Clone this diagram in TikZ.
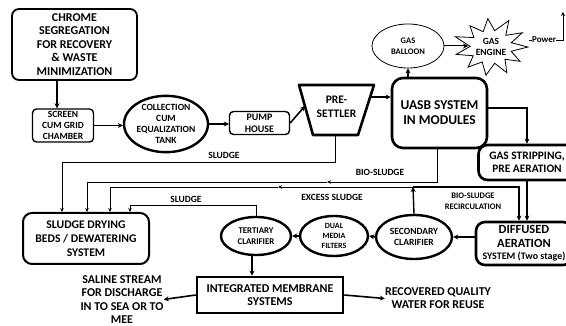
\documentclass[tikz,border=0pt]{standalone}
\usepackage{fontspec}
\setmainfont{Carlito}
\usetikzlibrary{shapes.geometric,arrows.meta}
\tikzset{
  fs/.style args={#1/#2}{font=\fontsize{#1}{#2}\selectfont\bfseries},
  rbox/.style={draw, rounded corners=7pt, line width=1.8pt, align=center, inner sep=1pt},
  tbox/.style={draw, rounded corners=9pt, line width=2.6pt, align=center, inner sep=1pt},
  ell/.style={draw, ellipse, line width=2.4pt, align=center, inner sep=0pt},
  lbl/.style={align=center, inner sep=0pt},
  flow/.style={line width=1.6pt, -{Stealth[length=5pt,width=5pt]}},
  thina/.style={line width=0.9pt, -{Stealth[length=4pt,width=3.5pt]}},
}
\begin{document}
\begin{tikzpicture}[x=1pt,y=-1pt]
\useasboundingbox (0,0) rectangle (566,326);
\clip (0,0) rectangle (566,326);
% nodes
\node[rbox, fs=12/13.5, minimum width=125pt, minimum height=71pt] (chrome) at (74.5,44.5)
  {CHROME\\SEGREGATION\\FOR RECOVERY\\\& WASTE\\MINIMIZATION};
\node[rbox, line width=1.4pt, rounded corners=4pt, fs=9.5/11, minimum width=61pt, minimum height=33pt] (screen) at (63,125.5)
  {SCREEN\\CUM GRID\\CHAMBER};
\node[ell, fs=9.5/11.2, minimum width=84pt, minimum height=53pt] (coll) at (166,124)
  {COLLECTION\\CUM\\EQUALIZATION\\TANK};
\node[rbox, line width=1.4pt, rounded corners=4pt, fs=10/12, minimum width=60pt, minimum height=23pt] (pump) at (259.5,123)
  {PUMP\\HOUSE};
% pre-settler trapezoid
\draw[line width=2.6pt, line join=round] (299,85) -- (374,85) -- (358,135) -- (313,135) -- cycle;
\node[lbl, fs=11.5/14] (ps) at (336.5,107) {PRE-\\SETTLER};
\coordinate (psL) at (305,106);
\coordinate (psR) at (371,97);
\coordinate (psB) at (335,135);
\node[tbox, rounded corners=11pt, fs=13.5/15, minimum width=95pt, minimum height=70pt] (uasb) at (439.5,113)
  {UASB SYSTEM\\IN MODULES};
\node[draw, ellipse, line width=0.8pt, align=center, inner sep=0pt, fs=8.5/11, minimum width=72pt, minimum height=44pt] (balloon) at (408,46)
  {GAS\\BALLOON};
% gas engine star
\draw[line width=0.8pt, shift={(491,47)}] (37,0)
  \foreach \a/\f in {15/0.55,30/0.95,45/0.55,62/1.0,80/0.55,95/0.95,112/0.55,128/0.9,145/0.55,160/1.0,178/0.55,195/0.95,212/0.55,228/0.9,245/0.55,262/0.95,280/0.55,296/0.95,312/0.55,328/0.9,345/0.55}
  { -- ({\f*38*cos(\a)},{-\f*30*sin(\a)}) } -- cycle;
\node[lbl, fs=9.5/11] (engine) at (491,47) {GAS\\ENGINE};
\coordinate (engW) at (468,51);
\coordinate (engE) at (529,40);
\node[lbl, fs=9/9, anchor=west] (power) at (532,40) {Power};
\coordinate (pwrC) at (563,40);
\coordinate (pwrT) at (563,12);
\node[tbox, rounded corners=9pt, fs=11.4/13.5, minimum width=97pt, minimum height=35pt] (gas) at (527,162.5)
  {GAS STRIPPING,\\PRE AERATION};
\node[tbox, rounded corners=9pt, fs=12.5/14, minimum width=96pt, minimum height=43pt] (diff) at (524,243.5)
  {DIFFUSED\\AERATION\\[-2pt]{\fontsize{10}{10}\selectfont SYSTEM (Two stage)}};
\node[ell, fs=9.5/11, minimum width=76pt, minimum height=44pt] (sec) at (414,237)
  {SECONDARY\\CLARIFIER};
\node[ell, fs=8/10, minimum width=68pt, minimum height=40pt] (dual) at (334,236)
  {DUAL\\MEDIA\\FILTERS};
\node[ell, fs=8.8/10.5, minimum width=70pt, minimum height=38pt] (tert) at (256,236)
  {TERTIARY\\CLARIFIER};
\node[draw, line width=2.6pt, align=center, fs=12/13.5, minimum width=146pt, minimum height=36pt] (imem) at (270,295)
  {INTEGRATED MEMBRANE\\SYSTEMS};
\node[tbox, line width=2pt, fs=11.7/14, minimum width=126pt, minimum height=51pt] (sludge) at (86,238.5)
  {SLUDGE DRYING\\BEDS / DEWATERING\\SYSTEM};
\node[lbl, fs=12/13.2] (saline) at (122,299.5) {SALINE STREAM\\FOR DISCHARGE\\IN TO SEA OR TO\\MEE};
\node[lbl, fs=12/13] (recov) at (438,298.5) {RECOVERED QUALITY\\WATER FOR REUSE};
% labels
\node[lbl, fs=9.5/10] (l1) at (224,155) {SLUDGE};
\node[lbl, fs=9.5/10] (l2) at (380,172) {BIO-SLUDGE};
\node[lbl, fs=9.5/10] (l3) at (332,197) {EXCESS SLUDGE};
\node[lbl, fs=9.5/10] (l4) at (186,199) {SLUDGE};
\node[lbl, fs=8.5/11] (l5) at (473,201) {BIO-SLUDGE\\RECIRCULATION};
% junction coordinates
\coordinate (c1) at (62,162);
\coordinate (u2) at (437,148);
\coordinate (a2) at (327,182);
\coordinate (c2) at (87,182);
\coordinate (j1) at (413,187);
\coordinate (j2) at (519,187);
\coordinate (a3) at (278,187);
\coordinate (c3) at (110,187);
\coordinate (c4) at (130,205);
% main flow
\draw[flow] ([xshift=-6pt]screen.north |- chrome.south) -- ([xshift=-6pt]screen.north);
\draw[flow] (screen.east) -- (screen.east -| coll.west);
\draw[flow] (coll.east) -- (coll.east -| pump.west);
\draw[flow] (pump.east) -- (psL);
\draw[flow] (psR) -- (psR -| uasb.west);
\draw[flow, line width=1.2pt] (uasb.north -| balloon.south) -- (balloon.south);
\draw[flow, line width=1pt] (balloon.east) -- (balloon.east -| engW);
\draw[line width=0.8pt] (engE) -- (power.west);
\draw[line width=0.9pt, -{Stealth[length=4pt,width=4pt]}] (power.east) -- (pwrC) -- (pwrT);
\draw[flow, line width=2pt] ([yshift=5pt]uasb.east) -| (gas.north);
\draw[flow, line width=2pt] (gas.south) -- (gas.south |- diff.north);
\draw[flow] (diff.west |- sec.east) -- (sec.east);
\draw[flow] (sec.west) -- (dual.east);
\draw[flow] (dual.west) -- (tert.east);
\draw[flow] ([xshift=-4pt]tert.south) -- ([xshift=-4pt]tert.south |- imem.north);
\draw[flow] (imem.west) -- (saline.east);
\draw[flow] (imem.east) -- (recov.west);
% sludge lines
\draw[thina] (psB) |- (c1) -- (c1 |- sludge.north);
\draw[thina] (u2) |- (a2);
\draw[thina] (a2) -- (c2) -- (c2 |- sludge.north);
\draw[flow, line width=1.4pt] (sec.north) -- (j1);
\draw[flow, line width=1.4pt] (j1) -- (j2) -- (j2 |- diff.north);
\draw[thina] (j1) -- (a3);
\draw[thina] (a3) -- (c3) -- (c3 |- sludge.north);
\draw[thina] (tert.north) |- (c4) -- (c4 |- sludge.north);
\end{tikzpicture}
\end{document}
